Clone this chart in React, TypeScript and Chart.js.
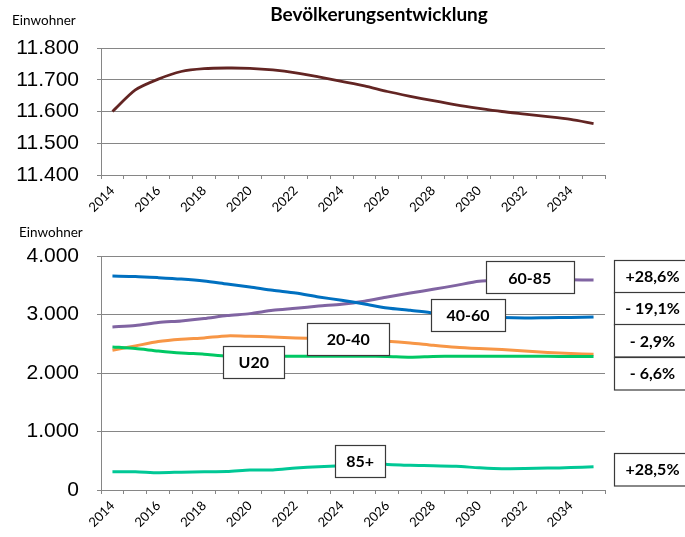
import React, { useEffect, useRef } from 'react';
import { Chart, registerables } from 'chart.js';

Chart.register(...registerables);

// ---------- data ----------
const years = ['2014', '2015', '2016', '2017', '2018', '2019', '2020', '2021', '2022', '2023', '2024',
  '2025', '2026', '2027', '2028', '2029', '2030', '2031', '2032', '2033', '2034', '2035'];

const totalPop = [11600, 11668, 11702, 11726, 11735, 11737, 11736, 11731, 11722, 11709, 11695,
  11681, 11663, 11648, 11634, 11621, 11610, 11600, 11592, 11584, 11575, 11562];

const u20 = [2446, 2418, 2377, 2343, 2321, 2290, 2287, 2287, 2285, 2285, 2287,
  2287, 2282, 2270, 2282, 2287, 2287, 2287, 2287, 2285, 2283, 2281];
const age2040 = [2389, 2463, 2537, 2577, 2600, 2634, 2628, 2617, 2600, 2588, 2575,
  2560, 2543, 2514, 2474, 2440, 2418, 2400, 2377, 2350, 2332, 2321];
const age4060 = [3657, 3650, 3630, 3606, 3572, 3520, 3470, 3413, 3367, 3300, 3243,
  3180, 3112, 3072, 3026, 3000, 2965, 2947, 2940, 2945, 2950, 2958];
const age6085 = [2787, 2810, 2862, 2890, 2930, 2981, 3015, 3072, 3106, 3145, 3175,
  3226, 3299, 3367, 3430, 3498, 3567, 3585, 3592, 3594, 3592, 3589];
const age85plus = [313, 313, 296, 305, 313, 315, 341, 343, 375, 398, 415,
  430, 438, 421, 415, 404, 381, 364, 366, 374, 383, 398];

const totalTickRange = [11400, 11800, 100];
const ageTickRange = [0, 4000, 1000];

const seriesNames = ['U20', '20-40', '40-60', '60-85', '85+'];
const changeLabels = ['- 6,6%', '- 2,9%', '- 19,1%', '+28,6%', '+28,5%'];

// ---------- layout / styles ----------
const COLORS = {
  total: '#632523',
  u20: '#00C864',
  a2040: '#F79646',
  a4060: '#0070C0',
  a6085: '#8064A2',
  a85: '#00C896',
};
const GRID = '#868686';
const BOX = '#3a3a3a';

// label boxes placed in data coordinates (category index, value)
const nameBoxes = [
  { text: seriesNames[0], xi: 6.17, yv: 2184, w: 61 },
  { text: seriesNames[1], xi: 10.29, yv: 2585, w: 82 },
  { text: seriesNames[2], xi: 15.52, yv: 2986, w: 74 },
  { text: seriesNames[3], xi: 18.22, yv: 3635, w: 88 },
  { text: seriesNames[4], xi: 10.81, yv: 495, w: 50 },
];
const changeBoxes = [
  { text: changeLabels[3], yv: 3662 },
  { text: changeLabels[2], yv: 3107 },
  { text: changeLabels[1], yv: 2552 },
  { text: changeLabels[0], yv: 1997 },
  { text: changeLabels[4], yv: 358 },
];

const fmtDE = (v: number) => String(v).replace(/\B(?=(\d{3})+(?!\d))/g, '.');

function xScaleOpts(height: number) {
  return {
    type: 'category',
    offset: true,
    grid: { display: true, offset: true, drawOnChartArea: false, drawTicks: true, tickLength: 4, color: GRID, lineWidth: 1 },
    border: { display: true, color: GRID, width: 1 },
    ticks: {
      autoSkip: false,
      minRotation: 45,
      maxRotation: 45,
      padding: 4,
      color: '#000',
      font: { family: 'Lato', size: 13 },
      callback: (_v: any, i: number) => (i % 2 === 0 ? years[i] : ''),
    },
    afterFit: (s: any) => { s.height = height; },
  };
}

function yScaleOpts(range: number[]) {
  return {
    min: range[0],
    max: range[1],
    ticks: {
      stepSize: range[2],
      padding: 18,
      color: '#000',
      font: { family: '"Liberation Sans", Arial, sans-serif', size: 21 },
      callback: (v: any) => fmtDE(Number(v)),
    },
    grid: { color: GRID, tickLength: 4, drawTicks: true, lineWidth: 1 },
    border: { display: true, color: GRID, width: 1 },
    afterFit: (s: any) => { s.width = 101; },
  };
}

function drawBox(ctx: CanvasRenderingContext2D, cx: number, cy: number, w: number, h: number, text: string) {
  const x = Math.round(cx - w / 2) + 0.5;
  const y = Math.round(cy - h / 2) + 0.5;
  ctx.fillStyle = '#fff';
  ctx.fillRect(x, y, w, h);
  ctx.strokeStyle = BOX;
  ctx.lineWidth = 1.2;
  ctx.strokeRect(x, y, w, h);
  ctx.fillStyle = '#000';
  ctx.font = 'bold 16px Lato';
  ctx.textAlign = 'center';
  ctx.textBaseline = 'middle';
  ctx.fillText(text, cx, cy + 1);
}

const boxPlugin = {
  id: 'labelBoxes',
  afterDatasetsDraw(chart: any) {
    const { ctx, scales, chartArea } = chart;
    ctx.save();
    for (const b of nameBoxes) {
      drawBox(ctx, scales.x.getPixelForValue(b.xi), scales.y.getPixelForValue(b.yv), b.w, 32, b.text);
    }
    for (const b of changeBoxes) {
      const left = chartArea.right + 9;
      drawBox(ctx, left + 38.5, scales.y.getPixelForValue(b.yv), 77, 32.5, b.text);
    }
    ctx.restore();
  },
};

const lineDs = (data: number[], color: string, width = 3) => ({
  data,
  borderColor: color,
  backgroundColor: color,
  borderWidth: width,
  pointRadius: 0,
  tension: 0.25,
  fill: false,
});

export default function App() {
  const topRef = useRef<HTMLCanvasElement>(null);
  const botRef = useRef<HTMLCanvasElement>(null);

  useEffect(() => {
    const common = {
      responsive: false,
      animation: false as const,
      events: [] as any[],
      plugins: { legend: { display: false }, tooltip: { enabled: false }, title: { display: false } },
    };
    const top = new Chart(topRef.current!, {
      type: 'line',
      data: { labels: years, datasets: [lineDs(totalPop, COLORS.total, 2.8)] },
      options: {
        ...common,
        layout: { padding: { top: 48, right: 80, left: 0, bottom: 0 } },
        scales: { x: xScaleOpts(50) as any, y: yScaleOpts(totalTickRange) as any },
      },
    });
    const bot = new Chart(botRef.current!, {
      type: 'line',
      data: {
        labels: years,
        datasets: [
          lineDs(age85plus, COLORS.a85),
          lineDs(u20, COLORS.u20),
          lineDs(age2040, COLORS.a2040),
          lineDs(age4060, COLORS.a4060),
          lineDs(age6085, COLORS.a6085),
        ],
      },
      options: {
        ...common,
        layout: { padding: { top: 31, right: 80, left: 0, bottom: 0 } },
        scales: { x: xScaleOpts(47) as any, y: yScaleOpts(ageTickRange) as any },
      },
      plugins: [boxPlugin],
    });
    return () => { top.destroy(); bot.destroy(); };
  }, []);

  const small: React.CSSProperties = {
    position: 'absolute', fontFamily: 'Lato, sans-serif', fontSize: 13.5, color: '#000', whiteSpace: 'nowrap', lineHeight: '16px',
  };

  return (
    <div style={{ position: 'absolute', left: 0, top: 0, width: 685, height: 537, background: '#fff', overflow: 'hidden' }}>
      <canvas ref={topRef} width={685} height={225} style={{ position: 'absolute', left: 0, top: 0, display: 'block' }} />
      <canvas ref={botRef} width={685} height={312} style={{ position: 'absolute', left: 0, top: 225, display: 'block' }} />
      <div style={{ position: 'absolute', left: 379, top: 3, transform: 'translateX(-50%)', fontFamily: 'Lato, sans-serif', fontWeight: 700, fontSize: 19, whiteSpace: 'nowrap', lineHeight: '22px' }}>
        Bevölkerungsentwicklung
      </div>
      <div style={{ ...small, left: 12, top: 12 }}>Einwohner</div>
      <div style={{ ...small, left: 19, top: 224 }}>Einwohner</div>
    </div>
  );
}
